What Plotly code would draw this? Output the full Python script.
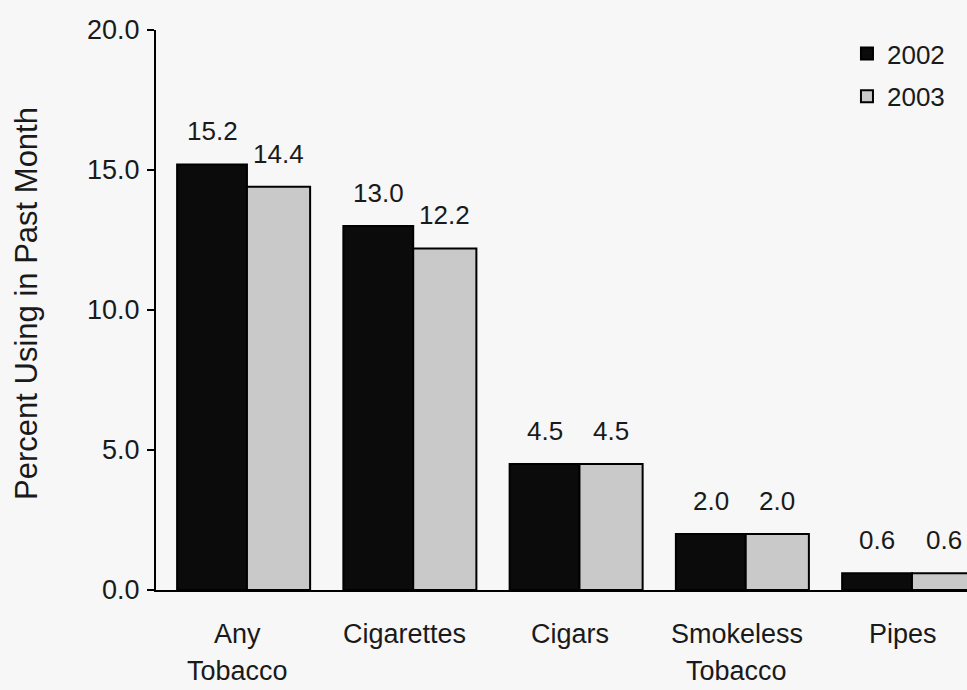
import plotly.graph_objects as go

# Past-month tobacco use by product, 2002 vs 2003
categories = ["Any Tobacco", "Cigarettes", "Cigars", "Smokeless Tobacco", "Pipes"]
label_top = ["Any", "Cigarettes", "Cigars", "Smokeless", "Pipes"]
label_bottom = ["Tobacco", "", "", "Tobacco", ""]
years = ["2002", "2003"]
values_2002 = [15.2, 13.0, 4.5, 2.0, 0.6]
values_2003 = [14.4, 12.2, 4.5, 2.0, 0.6]
y_ticks = [0, 5, 10, 15, 20]
y_ticktext = ["0.0", "5.0", "10.0", "15.0", "20.0"]

FONT = "Liberation Sans, Arial, Helvetica, sans-serif"
TEXT = "#1a1a1a"
BG = "#f7f7f7"

series = [
    dict(name=years[0], values=values_2002, color="#0b0b0b", offset=-0.42, width=0.42),
    dict(name=years[1], values=values_2003, color="#c9c9c9", offset=0.0, width=0.38),
]

fig = go.Figure()
for s in series:
    fig.add_trace(go.Bar(
        x=categories,
        y=s["values"],
        name=s["name"],
        legendgroup=s["name"],
        offset=s["offset"],
        width=s["width"],
        marker=dict(color=s["color"], line=dict(color="#000000", width=2)),
    ))

annotations = []
# value labels above each bar
for s in series:
    center = s["offset"] + s["width"] / 2
    for i, v in enumerate(s["values"]):
        annotations.append(dict(
            x=i + center, y=v, xref="x", yref="y",
            text=f"{v:.1f}", showarrow=False, yshift=33,
            xanchor="center", yanchor="middle",
            font=dict(family=FONT, size=26, color=TEXT),
        ))

# two-line category labels under the axis
for i, (top, bottom) in enumerate(zip(label_top, label_bottom)):
    for text, ypos in ((top, -0.0785), (bottom, -0.145)):
        if text:
            annotations.append(dict(
                x=i, y=ypos, xref="x", yref="paper",
                text=text, showarrow=False, xshift=-9,
                xanchor="center", yanchor="middle",
                font=dict(family=FONT, size=27, color=TEXT),
            ))

# y-axis title
annotations.append(dict(
    x=-0.159, y=0.511, xref="paper", yref="paper",
    text="Percent Using in Past Month", showarrow=False, textangle=-90,
    xanchor="center", yanchor="middle",
    font=dict(family=FONT, size=31, color=TEXT),
))

fig.update_layout(
    width=967, height=690,
    margin=dict(l=156, r=0, t=30, b=100),
    paper_bgcolor=BG, plot_bgcolor=BG,
    barmode="overlay",
    font=dict(family=FONT, color=TEXT),
    showlegend=True,
    legend=dict(
        x=0.852, y=1.0, xanchor="left", yanchor="top",
        bgcolor="rgba(0,0,0,0)", tracegroupgap=6,
        font=dict(family=FONT, size=26, color=TEXT),
    ),
    annotations=annotations,
    xaxis=dict(
        type="category",
        range=[-0.547, 4.331],
        showticklabels=False, ticks="",
        showgrid=False, zeroline=False,
        showline=True, linecolor="#000000", linewidth=2,
        fixedrange=True,
    ),
    yaxis=dict(
        range=[0, 20],
        tickvals=y_ticks, ticktext=y_ticktext,
        ticks="outside", ticklen=7, tickwidth=2, tickcolor="#000000",
        ticklabelstandoff=2,
        tickfont=dict(family=FONT, size=27, color=TEXT),
        showgrid=False, zeroline=False,
        showline=True, linecolor="#000000", linewidth=2,
        fixedrange=True,
    ),
)

fig.write_html("out.html")
